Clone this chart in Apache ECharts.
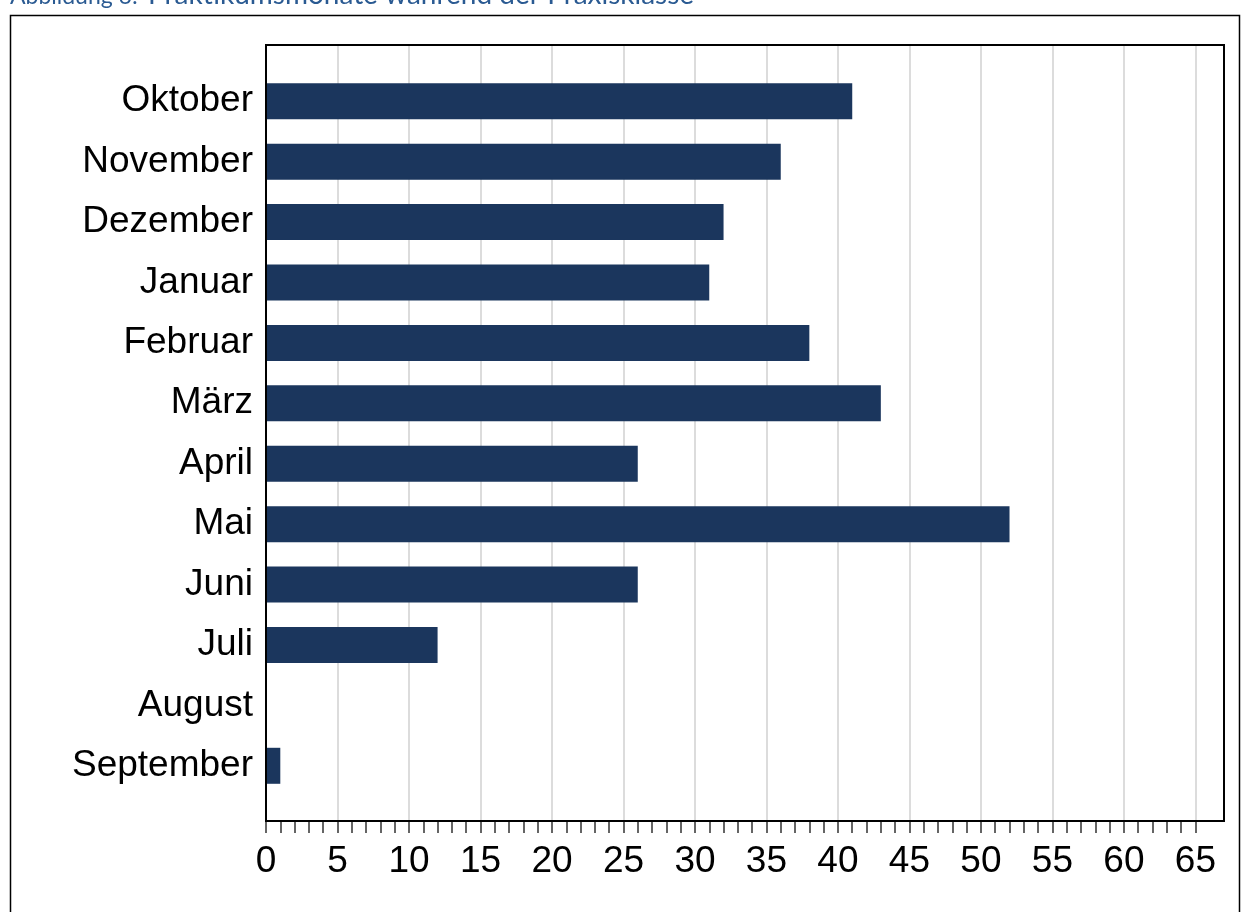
<!DOCTYPE html>
<html>
<head>
<meta charset="utf-8">
<script src="https://cdn.jsdelivr.net/npm/echarts@6/dist/echarts.min.js"></script>
<style>
  html, body { margin: 0; padding: 0; background: #fff; }
  #chart { width: 1242px; height: 912px; }
</style>
</head>
<body>
<div id="chart"></div>
<script>
// Monate von oben nach unten
const months = ['Oktober', 'November', 'Dezember', 'Januar', 'Februar', 'März',
  'April', 'Mai', 'Juni', 'Juli', 'August', 'September']
const counts = [41, 36, 32, 31, 38, 43, 26, 52, 26, 12, 0, 1]
const xTickLabels = [0, 5, 10, 15, 20, 25, 30, 35, 40, 45, 50, 55, 60, 65]
const xMax = 67

const barColor = '#1b365d'
const labelFont = 'Liberation Sans, Arial, sans-serif'

// kleine Striche fuer jede ganze Zahl bis zum letzten beschrifteten Wert
const minorTicks = []
for (let i = 0; i <= xTickLabels[xTickLabels.length - 1]; i++) minorTicks.push(i)

const chart = echarts.init(document.getElementById('chart'), null, { renderer: 'canvas' })

chart.setOption({
  animation: false,
  graphic: [
    {
      type: 'rect',
      shape: { x: 10.5, y: 15.5, width: 1229, height: 1000 },
      style: { fill: 'none', stroke: '#000', lineWidth: 1.5 },
      silent: true
    },
    {
      type: 'text',
      left: 10, top: -15,
      style: { text: 'Abbildung 6:', fontSize: 23, fontFamily: 'Lato, sans-serif', fill: '#2a5a92' }
    },
    {
      type: 'text',
      left: 148, top: -19,
      style: { text: 'Praktikumsmonate während der Praxisklasse', fontSize: 28, fontFamily: 'Lato, sans-serif', fill: '#2a5a92' }
    }
  ],
  grid: [
    // Rahmen + Achse
    { left: 266, right: 18, top: 45, height: 776, show: true, borderColor: '#000', borderWidth: 2, backgroundColor: 'transparent', z: 3 },
    // Balkenbereich
    { left: 266, right: 18, top: 71, height: 725 }
  ],
  xAxis: [
    {
      gridIndex: 0,
      type: 'value',
      min: 0,
      max: xMax,
      interval: 5,
      axisLine: { show: true, lineStyle: { color: '#000', width: 2 } },
      axisTick: {
        show: true,
        length: 12,
        customValues: minorTicks,
        lineStyle: { color: '#333', width: 1.5 }
      },
      axisLabel: {
        customValues: xTickLabels,
        fontSize: 37,
        fontFamily: labelFont,
        color: '#000',
        margin: 22
      },
      splitLine: { show: false }
    },
    {
      gridIndex: 1,
      type: 'value',
      min: 0,
      max: xMax,
      show: false
    },
    {
      // nur fuer die senkrechten Gitterlinien
      gridIndex: 0,
      type: 'value',
      position: 'top',
      min: 0,
      max: xMax,
      interval: 5,
      axisLine: { show: false },
      axisTick: { show: false },
      axisLabel: { show: false },
      splitLine: { show: true, showMinLine: false, showMaxLine: false, lineStyle: { color: '#dcdcdc', width: 2 } }
    }
  ],
  yAxis: [
    {
      gridIndex: 0, type: 'value', min: 0, max: 1, show: true,
      axisLine: { show: true, lineStyle: { color: '#000', width: 2 } },
      axisTick: { show: false },
      axisLabel: { show: false },
      splitLine: { show: false }
    },
    {
      gridIndex: 1,
      type: 'category',
      inverse: true,
      data: months,
      axisLine: { show: false },
      axisTick: { show: false },
      axisLabel: { fontSize: 37, fontFamily: labelFont, color: '#000', margin: 13 },
      splitLine: { show: false }
    }
  ],
  series: [{
    type: 'bar',
    xAxisIndex: 1,
    yAxisIndex: 1,
    data: counts,
    barWidth: 36,
    itemStyle: { color: barColor }
  }]
})
</script>
</body>
</html>
